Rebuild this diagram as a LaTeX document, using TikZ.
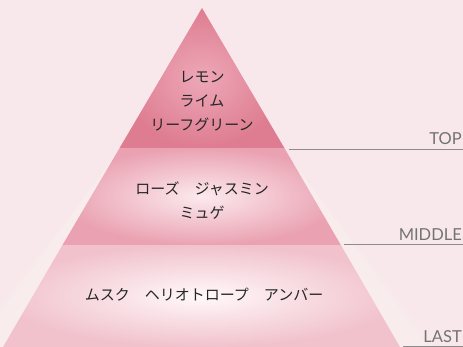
\documentclass[tikz,border=0pt]{standalone}
\usepackage{fontspec}
\newfontfamily\jpfont{Noto Sans CJK JP}
\newfontfamily\latinfont{Lato}

\definecolor{bgpink}{HTML}{F8E8EC}
\definecolor{topin}{HTML}{EDA8B7}
\definecolor{topout}{HTML}{DE7C91}
\definecolor{midin}{HTML}{FCEAEE}
\definecolor{midout}{HTML}{EAA2B2}
\definecolor{lastin}{HTML}{FFF8FA}
\definecolor{lastout}{HTML}{F1C2CC}

\begin{document}
\begin{tikzpicture}[x=1pt, y=-1pt,
  notes/.style={font=\jpfont\fontsize{15}{24}\selectfont, align=center, text=black!85},
  tierlabel/.style={font=\latinfont\fontsize{16.5}{17}\selectfont, text=black!55, anchor=base east, inner sep=0pt},
  tierline/.style={draw=black!45, line width=0.9pt}]
  \useasboundingbox (0,0) rectangle (463,347);
  \fill [bgpink] (0,0) rectangle (463,347);
  % soft glow round the pyramid
  \foreach \d in {3,6,...,36}
    \fill [white, opacity=0.05] (202,8+\d) -- (400+\d,347) -- (3-\d,347) -- cycle;

  \coordinate (apex) at (202,8);
  \coordinate (tl) at (119.6,148);
  \coordinate (tr) at (284.4,148);
  \coordinate (ml) at (62.5,245);
  \coordinate (mr) at (340.8,245);
  \coordinate (bl) at (3,347);
  \coordinate (br) at (400,347);

  % tiers
  \shade [inner color=lastin, outer color=lastout] (ml) -- (mr) -- (br) -- (bl) -- cycle;
  \shade [inner color=midin, outer color=midout] (tl) -- (tr) -- (mr) -- (ml) -- cycle;
  \shade [inner color=topin, outer color=topout] (apex) -- (tr) -- (tl) -- cycle;

  \node [notes] (topnotes) at (202,101.5) {レモン\\ライム\\リーフグリーン};
  \node [notes] (midnotes) at (202,201) {ローズ　ジャスミン\\ミュゲ};
  \node [notes] (lastnotes) at (204,295) {ムスク　ヘリオトロープ　アンバー};

  % labels on the right
  \coordinate (topa) at (289,149);   \coordinate (topb) at (463,149);
  \coordinate (mida) at (344,244);   \coordinate (midb) at (463,244);
  \coordinate (lasta) at (403,346);  \coordinate (lastb) at (463,346);
  \draw [tierline] (topa) -- (topb);
  \draw [tierline] (mida) -- (midb);
  \draw [tierline] (lasta) -- (lastb);
  \node [tierlabel] (toplabel) at (462,145) {TOP};
  \node [tierlabel] (midlabel) at (462,240.5) {MIDDLE};
  \node [tierlabel] (lastlabel) at (462,342.5) {LAST};
\end{tikzpicture}
\end{document}
